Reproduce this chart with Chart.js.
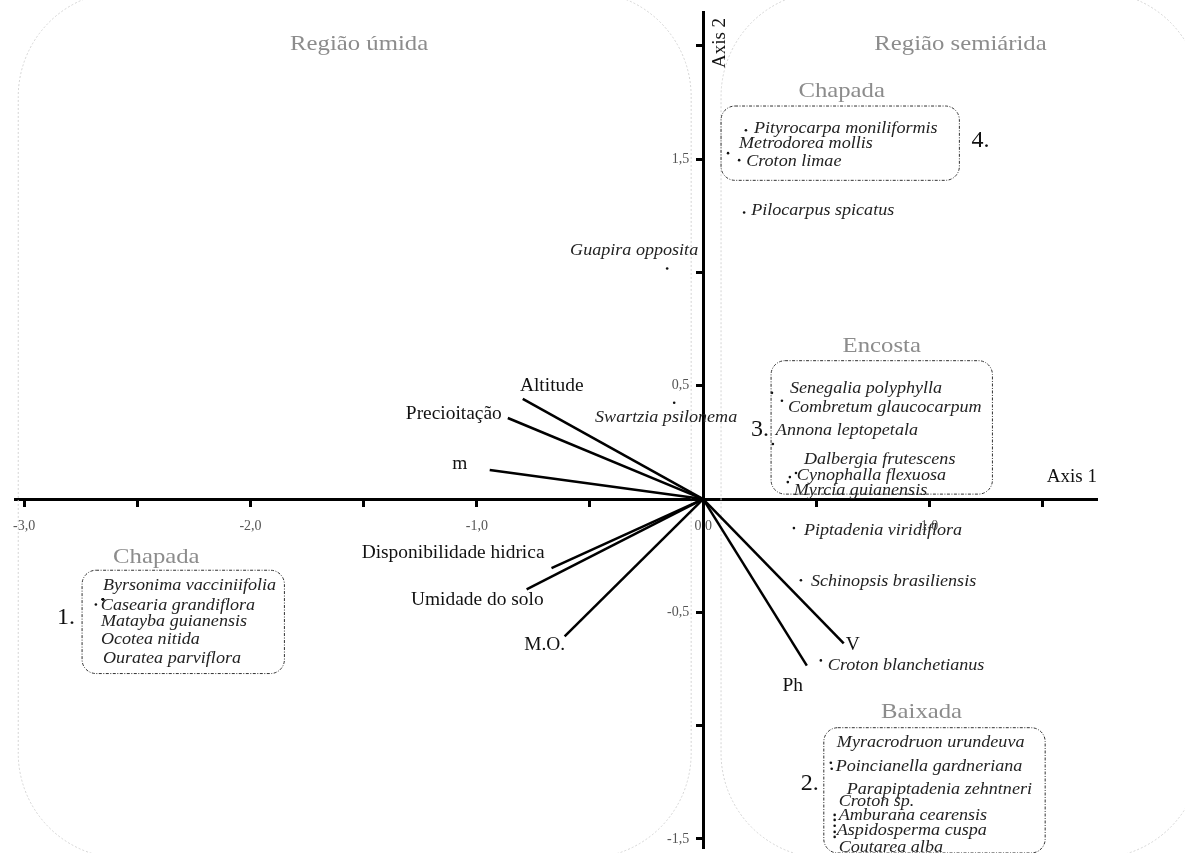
<!DOCTYPE html>
<html><head><meta charset="utf-8">
<script src="https://cdn.jsdelivr.net/npm/chart.js@4.4.0/dist/chart.umd.min.js"></script>
<style>html,body{margin:0;padding:0;background:#fff}#wrap{width:1185px;height:853px;position:relative}</style>
</head><body><div id="wrap"><canvas id="c"></canvas></div>
<script>
// ---------- DATA ----------
const speciesNames = [
  'Pityrocarpa moniliformis','Metrodorea mollis','Croton limae','Pilocarpus spicatus',
  'Guapira opposita','Swartzia psilonema',
  'Senegalia polyphylla','Combretum glaucocarpum','Annona leptopetala',
  'Dalbergia frutescens','Cynophalla flexuosa','Myrcia guianensis',
  'Piptadenia viridiflora','Schinopsis brasiliensis','Croton blanchetianus',
  'Byrsonima vacciniifolia','Casearia grandiflora','Matayba guianensis','Ocotea nitida','Ouratea parviflora',
  'Myracrodruon urundeuva','Poincianella gardneriana','Parapiptadenia zehntneri','Croton sp.',
  'Amburana cearensis','Aspidosperma cuspa','Coutarea alba'
];
const speciesAxis1 = [0.189,0.110,0.159,0.181,-0.159,-0.128,0.304,0.348,0.308,0.410,0.383,0.374,0.401,0.432,0.520,
  -2.652,-2.683,-2.652,-2.652,-2.652,0.564,0.568,0.581,0.581,0.581,0.581,0.581];
const speciesAxis2 = [1.628,1.527,1.496,1.265,1.018,0.425,0.469,0.434,0.243,0.115,0.097,0.075,-0.128,-0.358,-0.712,
  -0.442,-0.465,-0.442,-0.442,-0.442,-1.164,-1.190,-1.394,-1.416,-1.442,-1.469,-1.491];

const envNames = ['Altitude','Precioitação','m','Disponibilidade hidrica','Umidade do solo','M.O.','V','Ph'];
const envAxis1 = [-0.797,-0.863,-0.943,-0.670,-0.780,-0.612,0.621,0.458];
const envAxis2 = [0.442,0.358,0.128,-0.305,-0.398,-0.606,-0.637,-0.735];

const xTickValues = [-3,-2.5,-2,-1.5,-1,-0.5,0,0.5,1,1.5];
const xTickLabels = ['-3,0','','-2,0','','-1,0','','0,0','','1,0',''];
const yTickValues = [-1.5,-1,-0.5,0,0.5,1,1.5,2];
const yTickLabels = ['-1,5','','-0,5','','0,5','','1,5',''];

const regionNames = ['Região úmida','Região semiárida'];
const habitatNames = ['Chapada','Encosta','Chapada','Baixada'];
const groupNames = ['4.','3.','1.','2.'];
const axisTitles = ['Axis 1','Axis 2'];

// ---------- LAYOUT / STYLE ----------
const FONT = '"Liberation Serif", "Times New Roman", serif';
const speciesLabelOffset = {
  'Pityrocarpa moniliformis':[8,-1,'left'],'Metrodorea mollis':[11,-9,'left'],'Croton limae':[7,2,'left'],
  'Pilocarpus spicatus':[7,-2,'left'],'Guapira opposita':[31,-18,'right'],'Swartzia psilonema':[63,15,'right'],
  'Senegalia polyphylla':[18,-4,'left'],'Combretum glaucocarpum':[6,7,'left'],'Annona leptopetala':[3,-13,'left'],
  'Dalbergia frutescens':[8,-13,'left'],'Cynophalla flexuosa':[7,-1,'left'],'Myrcia guianensis':[6,9,'left'],
  'Piptadenia viridiflora':[10,3,'left'],'Schinopsis brasiliensis':[10,2,'left'],'Croton blanchetianus':[7,5,'left'],
  'Byrsonima vacciniifolia':[0,-13,'left'],'Casearia grandiflora':[5,1,'left'],'Matayba guianensis':[-2,23,'left'],
  'Ocotea nitida':[-2,41,'left'],'Ouratea parviflora':[0,60,'left'],
  'Myracrodruon urundeuva':[6,-20,'left'],'Poincianella gardneriana':[4,-2,'left'],'Parapiptadenia zehntneri':[12,-25,'left'],
  'Croton sp.':[4,-18,'left'],'Amburana cearensis':[4,-10,'left'],'Aspidosperma cuspa':[2,-1,'left'],'Coutarea alba':[4,11,'left']
};
const envLabelOffset = {
  'Altitude':[29,-13,'center'],'Precioitação':[-6,-4,'right'],'m':[-30,-6,'center'],
  'Disponibilidade hidrica':[-7,-15,'right'],'Umidade do solo':[17,11,'right'],'M.O.':[-20,9,'center'],
  'V':[9,2,'center'],'Ph':[-14,21,'center']
};
// positions in axis units
const regionRects = [[-3.026,2.24,-0.053,-1.585],[0.079,2.24,2.2,-1.585]];
const regionTitlePos = [[-1.52,2.009],[1.137,2.009]];
const habitatPos = [[0.612,1.801],[0.789,0.673],[-2.416,-0.257],[0.965,-0.942]];
const groupBoxes = [[0.079,1.735,1.132,1.407],[0.300,0.611,1.278,0.022],[-2.744,-0.314,-1.850,-0.770],[0.533,-1.009,1.511,-1.562]];
const groupNumPos = [[1.225,1.580],[0.251,0.305],[-2.815,-0.522],[0.471,-1.257]];

function stretchText(ctx, t, px, py, sx){
  ctx.save(); ctx.translate(px,py); ctx.scale(sx,1); ctx.fillText(t,0,0); ctx.restore();
}

const decor = {
  id:'decor',
  beforeDatasetsDraw(chart){
    const {ctx, scales:{x,y}} = chart;
    ctx.save();
    ctx.strokeStyle = '#d4d4d4'; ctx.lineWidth = 1; ctx.setLineDash([2,2]);
    regionRects.forEach(r=>{
      const x0=x.getPixelForValue(r[0]), y0=y.getPixelForValue(r[1]), x1=x.getPixelForValue(r[2]), y1=y.getPixelForValue(r[3]);
      ctx.beginPath(); ctx.roundRect(x0,y0,x1-x0,y1-y0,105); ctx.stroke();
    });
    ctx.restore();
    // y tick labels (from the y scale)
    ctx.save();
    ctx.fillStyle='#555'; ctx.font='14px '+FONT; ctx.textAlign='right'; ctx.textBaseline='middle';
    const ax = x.getPixelForValue(0);
    yTickValues.forEach((v,i)=>{ if (yTickLabels[i]) ctx.fillText(yTickLabels[i], ax-14, y.getPixelForValue(v)); });
    ctx.restore();
  },
  afterDatasetsDraw(chart){
    const {ctx, scales:{x,y}} = chart;
    ctx.save();
    ctx.textBaseline='middle';
    // region titles
    ctx.fillStyle = '#8c8c8c'; ctx.textAlign='center';
    ctx.font = '21.5px '+FONT;
    regionNames.forEach((t,i)=>stretchText(ctx,t, x.getPixelForValue(regionTitlePos[i][0]), y.getPixelForValue(regionTitlePos[i][1]),1.15));
    habitatNames.forEach((t,i)=>stretchText(ctx,t, x.getPixelForValue(habitatPos[i][0]), y.getPixelForValue(habitatPos[i][1]),1.15));
    // group boxes
    ctx.strokeStyle = '#333'; ctx.lineWidth = 1; ctx.setLineDash([3,1.5,1,1.5]);
    groupBoxes.forEach(b=>{
      const x0=x.getPixelForValue(b[0]), y0=y.getPixelForValue(b[1]), x1=x.getPixelForValue(b[2]), y1=y.getPixelForValue(b[3]);
      ctx.beginPath(); ctx.roundRect(x0,y0,x1-x0,y1-y0,14); ctx.stroke();
    });
    ctx.setLineDash([]);
    // group numbers
    ctx.fillStyle = '#111'; ctx.font = '24px '+FONT;
    groupNames.forEach((t,i)=>ctx.fillText(t, x.getPixelForValue(groupNumPos[i][0]), y.getPixelForValue(groupNumPos[i][1])));
    // species labels
    ctx.font = 'italic 16px '+FONT; ctx.fillStyle = '#222';
    speciesNames.forEach((n,i)=>{
      const o = speciesLabelOffset[n];
      ctx.textAlign = o[2];
      stretchText(ctx, n, x.getPixelForValue(speciesAxis1[i])+o[0], y.getPixelForValue(speciesAxis2[i])+o[1], 1.13);
    });
    // env labels
    ctx.font = '18.5px '+FONT; ctx.fillStyle = '#111';
    envNames.forEach((n,i)=>{
      const o = envLabelOffset[n];
      ctx.textAlign = o[2];
      stretchText(ctx, n, x.getPixelForValue(envAxis1[i])+o[0], y.getPixelForValue(envAxis2[i])+o[1], 1.05);
    });
    // axis titles
    ctx.font = '19px '+FONT; ctx.textAlign='right';
    ctx.fillText(axisTitles[0], x.right, y.getPixelForValue(0)-22);
    ctx.translate(x.getPixelForValue(0)+17, y.top+31);
    ctx.rotate(-Math.PI/2);
    ctx.textAlign='center';
    ctx.fillText(axisTitles[1], 0, 0);
    ctx.restore();
  }
};

const datasets = [{
  label:'species',
  data: speciesNames.map((n,i)=>({x:speciesAxis1[i], y:speciesAxis2[i]})),
  pointRadius:1.3, pointBackgroundColor:'#111', pointBorderWidth:0, showLine:false
}];
envNames.forEach((n,i)=>datasets.push({
  label:n, data:[{x:0,y:0},{x:envAxis1[i],y:envAxis2[i]}],
  showLine:true, borderColor:'#000', borderWidth:2.5, pointRadius:0, fill:false
}));

const axisCommon = {
  grid:{display:true, drawOnChartArea:false, drawTicks:true, tickLength:6, tickWidth:3, tickColor:'#000'},
  border:{display:true, color:'#000', width:3}
};

new Chart(document.getElementById('c'), {
  type:'scatter',
  data:{datasets},
  options:{
    responsive:true, maintainAspectRatio:false, animation:false,
    layout:{padding:{left:5,right:88,top:12,bottom:5}},
    plugins:{legend:{display:false}, tooltip:{enabled:false}},
    scales:{
      x:{type:'linear', position:{y:0}, min:-3.04, max:1.74, ...axisCommon,
        afterBuildTicks:s=>{s.ticks = xTickValues.map(v=>({value:v}));},
        ticks:{autoSkip:false, maxRotation:0, padding:13, color:'#555', font:{family:FONT,size:14},
          callback:(v,i)=>xTickLabels[i]}},
      y:{type:'linear', position:{x:0}, min:-1.54, max:2.15, ...axisCommon,
        afterBuildTicks:s=>{s.ticks = yTickValues.map(v=>({value:v}));},
        ticks:{display:false, autoSkip:false}}
    }
  },
  plugins:[decor]
});
</script></body></html>
